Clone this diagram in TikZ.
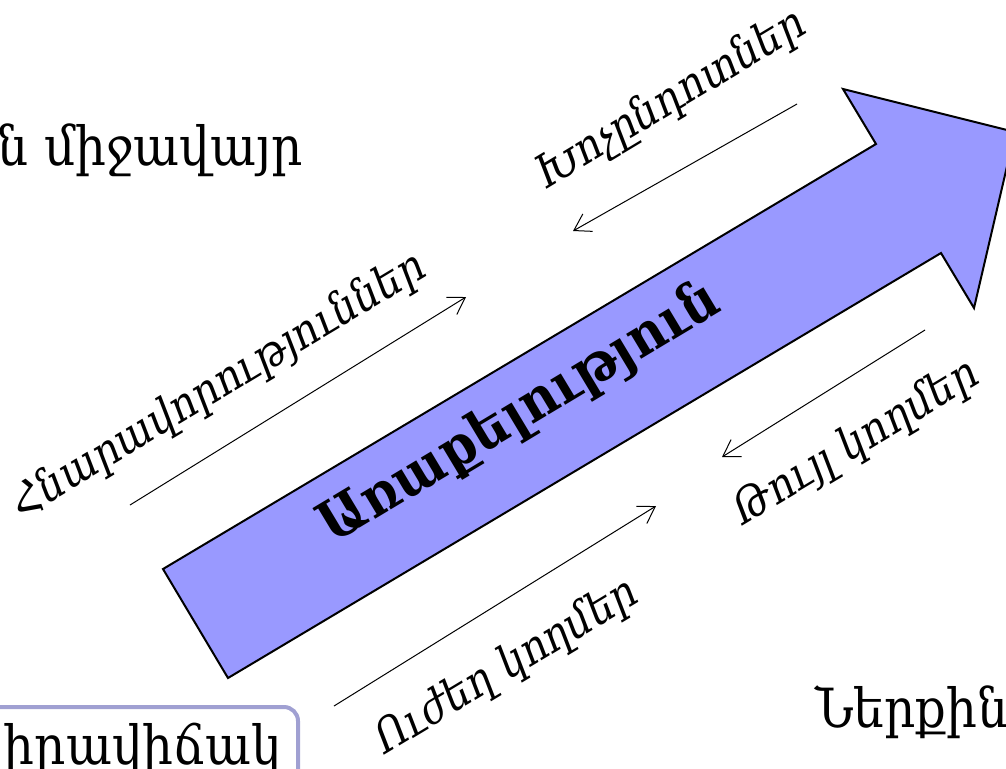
\documentclass[tikz,border=0pt]{standalone}
\usepackage{fontspec}
\setmainfont{DejaVu Serif}
\newfontfamily\narrowfont{DejaVu Serif Condensed}
\usetikzlibrary{arrows.meta}
\definecolor{mission}{HTML}{9999FF}
\definecolor{frameline}{HTML}{A0A0D2}

\begin{document}
\begin{tikzpicture}[
    x={(0.5pt,0)}, y={(0,-0.5pt)},
    >={Straight Barb[length=8pt, width=10pt]},
    bigarrow/.style={draw=black, line width=1pt, fill=mission, line join=miter},
    flow/.style={->, draw=black, line width=0.5pt},
    side/.style={font=\narrowfont\fontsize{22.5}{25}\selectfont\itshape, rotate=31, inner sep=0pt},
    env/.style={font=\narrowfont\fontsize{27}{30}\selectfont, inner sep=0pt},
    statebox/.style={draw=frameline, line width=2pt, rounded corners=7pt, inner sep=8pt, font=\narrowfont\fontsize{27}{30}\selectfont},
  ]
  \clip (0,0) rectangle (1006,768);
  % ------------------------------------------------------------------ main arrow
  \draw[bigarrow] (163,569) -- (228,678) -- (941,253) -- (974,308) -- (1015,132)
    -- (843,89) -- (876,144) -- cycle;
  \node[font=\narrowfont\fontsize{28}{32}\selectfont\bfseries, rotate=31, inner sep=0pt] (mission) at (520,414) {Առաքելություն};
  % ------------------------------------------------------------------ outside and inside
  \node[env, anchor=base east] (outer) at (303,165) {Արտաքին միջավայր};
  \node[env, anchor=base west] (inner) at (815,727) {Ներքին միջավայր};
  \node[statebox, anchor=north east] (now) at (300,705) {Ներկա իրավիճակ};
  % ------------------------------------------------------------------ four side arrows
  \coordinate (opA) at (130,505);  \coordinate (opB) at (466,297);
  \coordinate (thA) at (797,104);  \coordinate (thB) at (573,231);
  \coordinate (wkA) at (925,330);  \coordinate (wkB) at (722,457);
  \coordinate (stA) at (334,706);  \coordinate (stB) at (656,506);
  \draw[flow] (opA) -- (opB);
  \draw[flow] (thA) -- (thB);
  \draw[flow] (wkA) -- (wkB);
  \draw[flow] (stA) -- (stB);
  \node[side] (opp) at (219,386) {Հնարավորություններ};
  \node[side] (thr) at (671,100) {Խոչընդոտներ};
  \node[side] (weak) at (856,443) {Թույլ կողմեր};
  \node[side] (str) at (507,667) {Ուժեղ կողմեր};
\end{tikzpicture}
\end{document}
